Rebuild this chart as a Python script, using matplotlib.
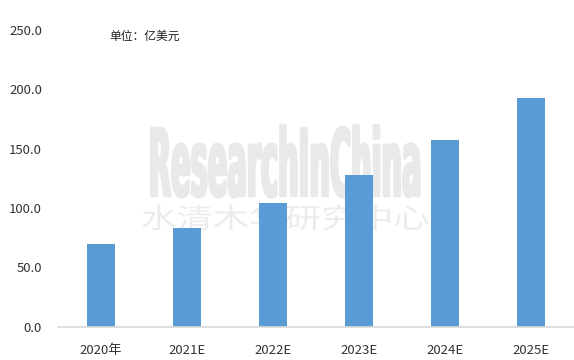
import matplotlib
matplotlib.use('Agg')
import matplotlib.pyplot as plt
from matplotlib import patheffects
from matplotlib.transforms import Affine2D

plt.rcParams['font.family'] = ['Noto Sans CJK SC', 'DejaVu Sans']

years = ['2020年', '2021E', '2022E', '2023E', '2024E', '2025E']
values = [70.0, 83.0, 104.0, 127.5, 157.0, 192.5]
yticks = [0, 50, 100, 150, 200, 250]
unit = '单位：亿美元'
bar_color = '#5B9BD5'
mark_color = '#E8E9EB'


class Squash(patheffects.AbstractPathEffect):
    # squeeze text horizontally around its anchor and thicken it a bit
    def __init__(self, txt, sx, lw=0.0):
        super().__init__()
        self.txt = txt
        self.sx = sx
        self.lw = lw

    def draw_path(self, renderer, gc, tpath, affine, rgbFace=None):
        cx, cy = self.txt.get_transform().transform(self.txt.get_position())
        sq = Affine2D().translate(-cx, -cy).scale(self.sx, 1).translate(cx, cy)
        gc0 = renderer.new_gc()
        gc0.copy_properties(gc)
        if self.lw > 0:
            gc0.set_linewidth(self.lw)
            gc0.set_foreground(rgbFace)
        else:
            gc0.set_linewidth(0)
        renderer.draw_path(gc0, tpath, affine + sq, rgbFace)
        gc0.restore()


fig = plt.figure(figsize=(5.74, 3.6), dpi=100)
ax = fig.add_axes([0.101, 0.092, 0.899, 0.825])

# watermark behind the bars
t1 = ax.text(0.44, 0.441, 'ResearchInChina', transform=ax.transAxes, ha='center', va='baseline',
             fontsize=67, fontweight='bold', color=mark_color, family=['DejaVu Sans'], zorder=0)
t1.set_path_effects([Squash(t1, 0.31, lw=2)])
t2 = ax.text(0.44, 0.36, '水清木华研究中心', transform=ax.transAxes, ha='center', va='center',
             fontsize=20, color='#EBECEE', zorder=0)
t2.set_path_effects([Squash(t2, 1.3)])

x = range(len(years))
ax.bar(x, values, width=0.32, color=bar_color, zorder=2)

ax.set_xlim(-0.5, len(years) - 0.5)
ax.set_ylim(0, 250)
ax.set_yticks(yticks)
ax.set_yticklabels([f'{v:.1f}' for v in yticks], fontsize=9.5, color='#333333')
ax.set_xticks(list(x))
ax.set_xticklabels(years, fontsize=9.5, color='#333333')
ax.tick_params(axis='x', length=0, pad=12)
ax.tick_params(axis='y', length=0, pad=11.5)

for s in ['top', 'right', 'left']:
    ax.spines[s].set_visible(False)
ax.spines['bottom'].set_color('#D9D9D9')
ax.spines['bottom'].set_linewidth(1.2)

fig.text(0.19, 0.9, unit, fontsize=8.5, color='#222222', va='center')

fig.savefig('out.png', dpi=100)
